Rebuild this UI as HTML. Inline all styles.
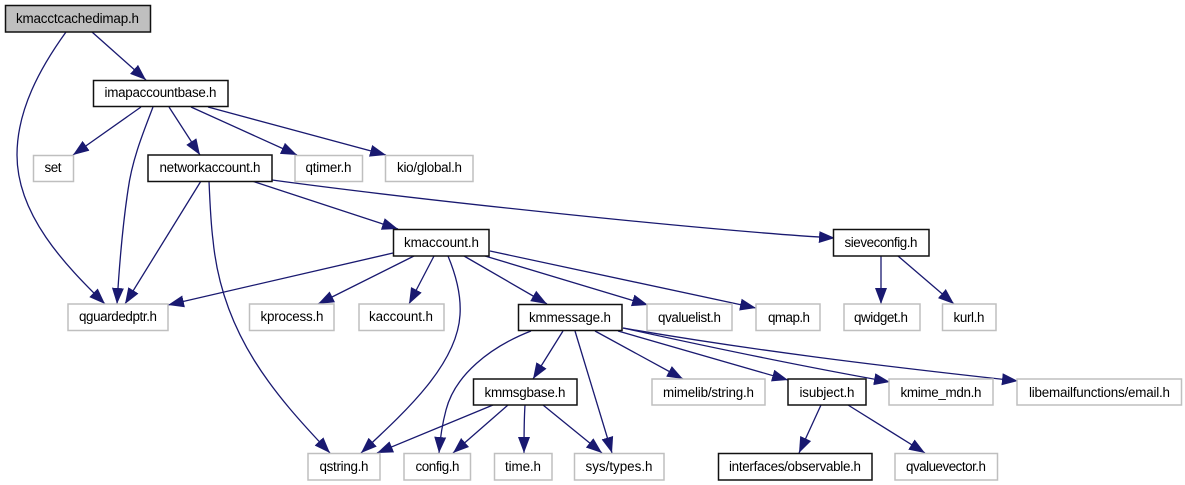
<!DOCTYPE html>
<html>
<head>
<meta charset="utf-8">
<style>
html,body{margin:0;padding:0;background:#fff;}
svg{display:block;}
text{font-family:"Liberation Sans",sans-serif;font-size:13.4px;fill:#000;text-anchor:middle;}
.b{fill:#fff;stroke:#111;stroke-width:1.5;}
.g{fill:#fff;stroke:#bfbfbf;stroke-width:1.5;}
.e{fill:none;stroke:#191970;stroke-width:1.3;marker-end:url(#a);}
</style>
</head>
<body>
<svg width="1185" height="485" viewBox="0 0 1185 485" xmlns="http://www.w3.org/2000/svg">
<defs>
<marker id="a" markerUnits="userSpaceOnUse" markerWidth="18" markerHeight="14" refX="16" refY="7" orient="auto" viewBox="0 0 18 14">
<polygon points="0,1 16,7 0,13" fill="#191970"/>
</marker>
</defs>
<path class="e" d="M92,32L146,80"/>
<path class="e" d="M66,32C40,68 17,110 17,155C17,215 65,265 105,304"/>
<path class="e" d="M141,107L73,155"/>
<path class="e" d="M153,107C143,133 132,160 128,190C122,230 119,270 117,304"/>
<path class="e" d="M169,107L200,155"/>
<path class="e" d="M191,107L297,155"/>
<path class="e" d="M208,107L386,155"/>
<path class="e" d="M201,181L125,304"/>
<path class="e" d="M209,181C210,205 211,225 213,240C222,335 275,395 330,453"/>
<path class="e" d="M252,181L398,229"/>
<path class="e" d="M272,180C420,200 700,230 835,238"/>
<path class="e" d="M393,253L168,305"/>
<path class="e" d="M414,256L318,304"/>
<path class="e" d="M434,256L409,304"/>
<path class="e" d="M448,256C458,280 461,300 460,315C457,365 405,412 361,453"/>
<path class="e" d="M464,256L547,304"/>
<path class="e" d="M485,256L648,305"/>
<path class="e" d="M490,251L756,308"/>
<path class="e" d="M531,331C490,347 455,375 446,410C442,425 440,440 439,453"/>
<path class="e" d="M563,331L533,379"/>
<path class="e" d="M575,331L612,453"/>
<path class="e" d="M595,331L683,379"/>
<path class="e" d="M618,331L788,380"/>
<path class="e" d="M623,328C700,345 800,366 890,382"/>
<path class="e" d="M623,328C750,350 880,366 1018,381"/>
<path class="e" d="M493,405L377,453"/>
<path class="e" d="M508,405L453,453"/>
<path class="e" d="M525,405C524,420 524,438 524,453"/>
<path class="e" d="M543,405L602,453"/>
<path class="e" d="M821,405L799,453"/>
<path class="e" d="M848,405L925,453"/>
<path class="e" d="M881,256L881,304"/>
<path class="e" d="M898,256L954,304"/>

<rect x="5.5" y="5.5" width="145" height="26.5" fill="#bfbfbf" stroke="#111" stroke-width="1.5"/>
<text x="77.5" y="23" textLength="123">kmacctcachedimap.h</text>
<rect class="b" x="93.5" y="80.5" width="134.5" height="26"/>
<text x="160.5" y="97" textLength="112">imapaccountbase.h</text>
<rect class="g" x="33.5" y="155.5" width="40" height="26"/>
<text x="53" y="172" textLength="17">set</text>
<rect class="b" x="148" y="155" width="124" height="26.5"/>
<text x="210" y="172" textLength="101">networkaccount.h</text>
<rect class="g" x="295" y="155.5" width="67.5" height="26"/>
<text x="328.5" y="172" textLength="46">qtimer.h</text>
<rect class="g" x="385.5" y="155.5" width="87.5" height="26"/>
<text x="429.5" y="172" textLength="65">kio/global.h</text>

<rect class="g" x="68" y="304" width="100" height="26.5"/>
<text x="118" y="321" textLength="78">qguardedptr.h</text>
<rect class="g" x="249.5" y="304" width="84.5" height="26.5"/>
<text x="292" y="321" textLength="63">kprocess.h</text>
<rect class="g" x="359" y="304" width="85" height="26.5"/>
<text x="401" y="321" textLength="64">kaccount.h</text>

<rect class="b" x="393.5" y="229.5" width="95.5" height="26.5"/>
<text x="441.5" y="247" textLength="75">kmaccount.h</text>
<rect class="b" x="833.5" y="229.5" width="95.5" height="26.5"/>
<text x="881" y="247" textLength="73">sieveconfig.h</text>

<rect class="b" x="518.5" y="304.5" width="103.5" height="26"/>
<text x="570" y="322" textLength="82">kmmessage.h</text>
<rect class="g" x="647" y="304" width="85" height="26.5"/>
<text x="689.5" y="322" textLength="63">qvaluelist.h</text>
<rect class="g" x="756" y="304" width="64" height="26.5"/>
<text x="789" y="322" textLength="42">qmap.h</text>
<rect class="g" x="844" y="304" width="76" height="26.5"/>
<text x="881" y="322" textLength="54">qwidget.h</text>
<rect class="g" x="942.5" y="304" width="53.5" height="26.5"/>
<text x="969" y="322" textLength="31">kurl.h</text>

<rect class="b" x="473.5" y="379" width="103.5" height="26"/>
<text x="525" y="397" textLength="81">kmmsgbase.h</text>
<rect class="g" x="652" y="379" width="113" height="26"/>
<text x="708.5" y="397" textLength="91">mimelib/string.h</text>
<rect class="b" x="788" y="379" width="78" height="26"/>
<text x="827" y="397" textLength="55">isubject.h</text>
<rect class="g" x="889" y="379" width="104" height="26"/>
<text x="941" y="397" textLength="81">kmime_mdn.h</text>
<rect class="g" x="1017" y="379" width="164.5" height="26"/>
<text x="1099.5" y="397" textLength="141">libemailfunctions/email.h</text>

<rect class="g" x="308" y="453.5" width="72" height="26.5"/>
<text x="344" y="471" textLength="49">qstring.h</text>
<rect class="g" x="404" y="453.5" width="66.5" height="26.5"/>
<text x="437.5" y="471" textLength="44">config.h</text>
<rect class="g" x="494.5" y="453.5" width="57.5" height="26.5"/>
<text x="523" y="471" textLength="36">time.h</text>
<rect class="g" x="574.5" y="453.5" width="89.5" height="26.5"/>
<text x="619" y="471" textLength="67">sys/types.h</text>
<rect class="b" x="718.5" y="453.5" width="153.5" height="26.5"/>
<text x="795" y="471" textLength="132">interfaces/observable.h</text>
<rect class="g" x="895" y="453.5" width="102.5" height="26.5"/>
<text x="946" y="471" textLength="80">qvaluevector.h</text>
</svg>
</body>
</html>
